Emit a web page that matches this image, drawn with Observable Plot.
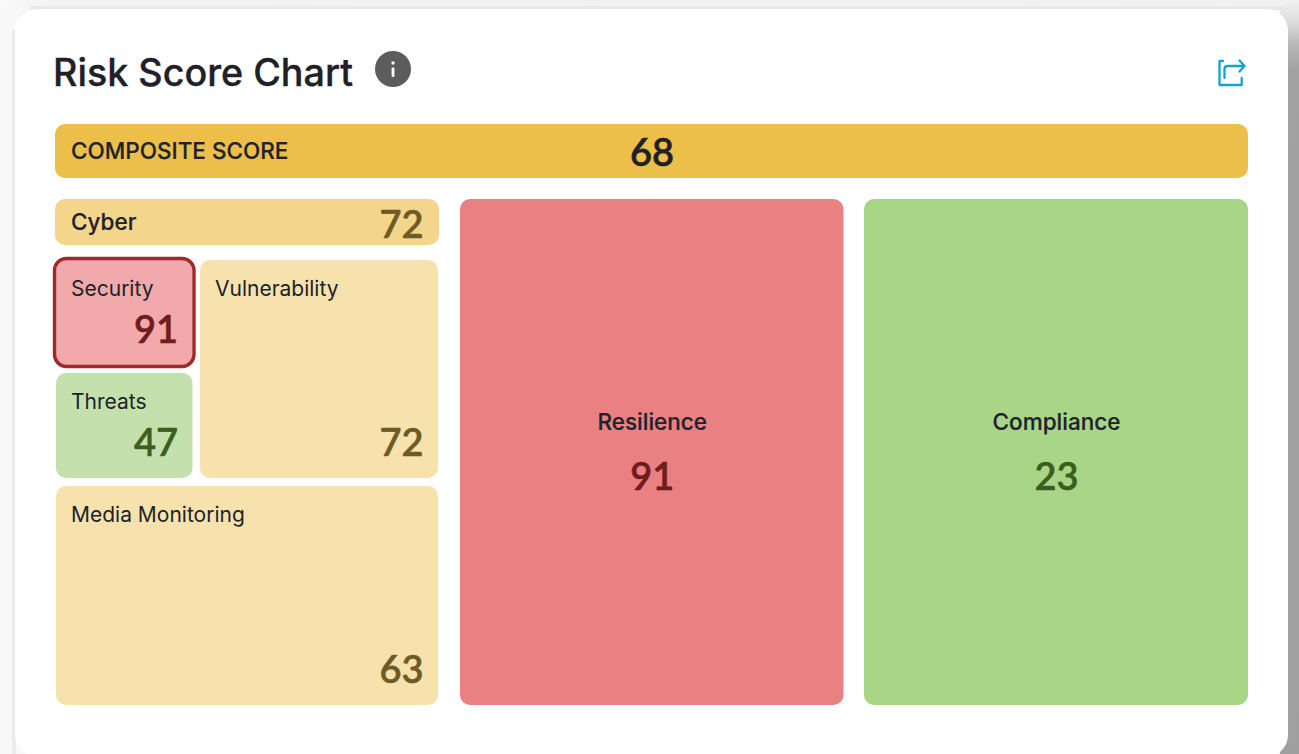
<!DOCTYPE html>
<html>
<head>
<meta charset="utf-8">
<script src="https://cdn.jsdelivr.net/npm/d3@7"></script>
<script src="https://cdn.jsdelivr.net/npm/@observablehq/plot@0.6"></script>
<style>
  html, body { margin: 0; padding: 0; width: 1299px; height: 754px; overflow: hidden; background: #f8f8f8; }
  #strip { position: absolute; left: 1280px; top: 0; width: 19px; height: 754px;
           background: linear-gradient(#f0f0f0 0, #e4e4e4 15px, #d4d4d4 28px, #b6b6b6 45px, #a2a2a2 70px, #9f9f9f 100%); }
  #topband { position: absolute; left: 0; top: 0; width: 1285px; height: 10px;
             background: linear-gradient(90deg, #fbfbfb 0, #f2f2f2 50px, #f1f1f1 100%); }
  #topline { position: absolute; left: 30px; top: 6px; width: 1255px; height: 4px; background: #e9e9e9; }
  #leftline { position: absolute; left: 12px; top: 30px; width: 4px; height: 724px; background: #ececec; }
  #card { position: absolute; left: 15px; top: 9px; width: 1273px; height: 748px; background: #fff; border-radius: 22px; }
  #title { position: absolute; left: 53px; top: 49px; font: 500 37.7px/46px Inter, sans-serif; -webkit-text-stroke: 0.35px #1f2028; color: #1f2028; white-space: nowrap; }
  #info { position: absolute; left: 375px; top: 51px; width: 36px; height: 36px; }
  #share { position: absolute; left: 1217px; top: 58px; width: 29px; height: 29px; }
  #chart { position: absolute; left: 0; top: 110px; width: 1299px; height: 610px; }
  #chart svg { background: transparent; display: block; }
</style>
</head>
<body>
<div id="strip"></div>
<div id="topband"></div>
<div id="topline"></div>
<div id="leftline"></div>
<div id="card"></div>
<div id="title">Risk Score Chart</div>
<svg id="info" viewBox="0 0 36 36" aria-hidden="true">
  <circle cx="18" cy="18" r="18" fill="#5c5c5c"/>
  <circle cx="18" cy="12" r="1.7" fill="#fff"/>
  <rect x="16.6" y="16.5" width="2.8" height="9.5" rx="1" fill="#fff"/>
</svg>
<svg id="share" viewBox="0 0 29 29" aria-hidden="true" fill="none" stroke="#12a3cf" stroke-width="2.3" stroke-linecap="round" stroke-linejoin="round">
  <path d="M6 3 H2.5 V27 H24.7 V20"/>
  <path d="M7.5 20 V11 Q7.5 8 10.5 8 H27"/>
  <path d="M22.5 2.5 L27.5 8 L22.5 13.5"/>
</svg>
<div id="chart"></div>
<script>
// Chart values
const cellNames = ["COMPOSITE SCORE", "Cyber", "Security", "Vulnerability", "Threats", "Media Monitoring", "Resilience", "Compliance"];
const cellScores = [68, 72, 91, 72, 47, 63, 91, 23];

// Layout table for Plot's rect mark (treemap-style tiles, in layout units)
const tileLeft   = [55, 55, 56, 200, 56, 56, 460, 864];
const tileRight  = [1248, 439, 192.5, 438, 192.5, 438, 843.5, 1248];
const tileTop    = [124, 199, 260, 260, 373, 486, 199, 199];
const tileBottom = [178, 245, 365, 478, 478, 705, 705, 705];

const tileFill = ["#ecbe4a", "#f3d58c", "#f1a9ab", "#f7e2ae", "#c4e1ad", "#f7e2ae", "#e98082", "#a9d587"];
const scoreInk = ["#1f2028", "#6e5a25", "#701b1d", "#6e5a25", "#3b5e1f", "#6e5a25", "#701b1d", "#3b5e1f"];

const tiles = cellNames.map((name, i) => ({
  name, score: cellScores[i],
  x1: tileLeft[i], x2: tileRight[i], y1: tileTop[i], y2: tileBottom[i],
  fill: tileFill[i], ink: scoreInk[i]
}));
const bar = tiles.slice(0, 1);
const header = tiles.slice(1, 2);
const nested = tiles.slice(2, 6);
const pillars = tiles.slice(6);
const security = tiles.slice(2, 3);

const labelInk = "#20222b";
const labelFont = "Inter, sans-serif";
const scoreStyle = { fill: d => d.ink, stroke: d => d.ink, strokeWidth: 0.5, fontFamily: "Lato, sans-serif", fontSize: 38, fontWeight: 600 };
const headingStyle = { fill: labelInk, stroke: labelInk, strokeWidth: 0.2, fontFamily: labelFont, fontSize: 22.5, fontWeight: 500 };
const mid = (a, b) => (a + b) / 2;

const chart = Plot.plot({
  width: 1299, height: 610,
  margin: 0,
  style: { background: "transparent", overflow: "visible" },
  x: { type: "linear", domain: [0, 1299], range: [0, 1299], axis: null },
  y: { type: "linear", domain: [110, 720], range: [0, 610], axis: null },
  marks: [
    Plot.rect(tiles, { x1: "x1", x2: "x2", y1: "y1", y2: "y2", fill: d => d.fill, rx: 10, ry: 10 }),
    Plot.rect(security, { x1: "x1", x2: "x2", y1: "y1", y2: "y2", fill: "none", stroke: "#9e2a2b", strokeWidth: 3.4, rx: 12, ry: 12, inset: -1.5 }),

    // Composite bar
    Plot.text(bar, { x: "x1", y: d => mid(d.y1, d.y2), dx: 15.5, dy: 0, text: "name", textAnchor: "start", ...headingStyle }),
    Plot.text(bar, { x: d => mid(d.x1 + 55, d.x2 - 55), y: d => mid(d.y1, d.y2), dy: 2, text: d => String(d.score), ...scoreStyle }),

    // Cyber header
    Plot.text(header, { x: "x1", y: d => mid(d.y1, d.y2), dx: 15.5, dy: 0, text: "name", textAnchor: "start", ...headingStyle }),
    Plot.text(header, { x: "x2", y: d => mid(d.y1, d.y2), dx: -16, dy: 3, text: d => String(d.score), textAnchor: "end", ...scoreStyle }),

    // Nested tiles
    Plot.text(nested, { x: "x1", y: "y1", dx: 14.5, dy: 29, text: "name", textAnchor: "start", fill: labelInk, fontFamily: labelFont, fontSize: 21, fontWeight: 400 }),
    Plot.text(nested, { x: "x2", y: "y2", dx: -15, dy: -35, text: d => String(d.score), textAnchor: "end", ...scoreStyle }),

    // Pillars
    Plot.text(pillars, { x: d => mid(d.x1, d.x2), y: d => mid(d.y1, d.y2), dy: -30, text: "name", ...headingStyle }),
    Plot.text(pillars, { x: d => mid(d.x1, d.x2), y: d => mid(d.y1, d.y2), dy: 25, text: d => String(d.score), ...scoreStyle })
  ]
});
document.getElementById("chart").appendChild(chart);
</script>
</body>
</html>
